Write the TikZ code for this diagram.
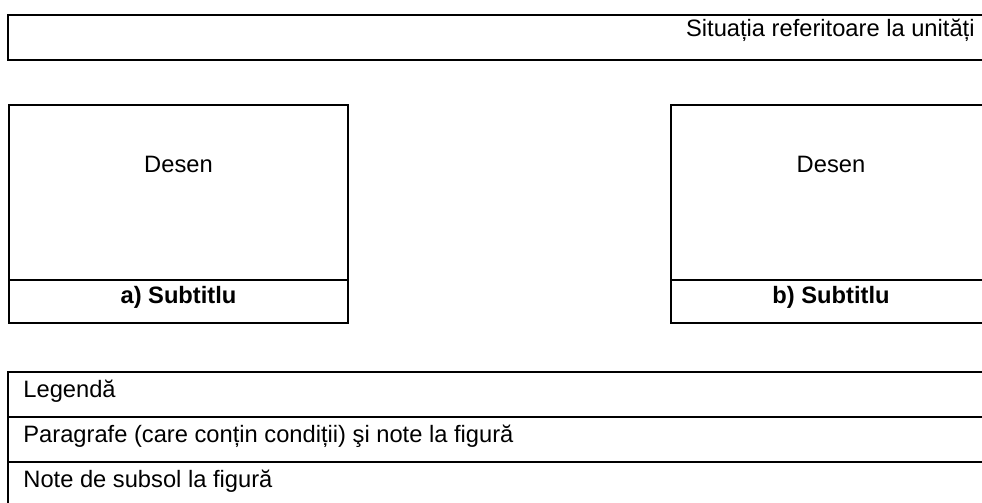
\documentclass[tikz,border=0pt]{standalone}
\usepackage{fontspec}
\setmainfont{Liberation Sans}
\begin{document}
\begin{tikzpicture}[x=0.5pt,y=-0.5pt,
  frame/.style={line width=1pt,draw=black},
  txt/.style={font=\fontsize{11.85}{14}\selectfont, inner sep=0pt}]
\useasboundingbox (0,0) rectangle (982,503);
\clip (0,0) rectangle (982,503);
% top box
\draw[frame] (1000,15) -- (8,15) -- (8,60) -- (1000,60);
\node[txt, anchor=base east] (title) at (975,37) {Situația referitoare la unități};
% box a
\draw[frame] (9,105) rectangle (348,323);
\draw[frame] (9,280) -- (348,280);
\node[txt, anchor=base] (desena) at (178.5,172) {Desen};
\node[txt, anchor=base] (suba) at (178.5,303) {\bfseries a) Subtitlu};
% box b
\draw[frame] (1000,105) -- (671,105) -- (671,323) -- (1000,323);
\draw[frame] (671,280) -- (1000,280);
\node[txt, anchor=base] (desenb) at (831,172) {Desen};
\node[txt, anchor=base] (subb) at (831,303) {\bfseries b) Subtitlu};
% bottom table
\draw[frame] (1000,372) -- (8,372) -- (8,510);
\draw[frame] (8,417) -- (1000,417);
\draw[frame] (8,462) -- (1000,462);
\node[txt, anchor=base west] (leg) at (23,397) {Legendă};
\node[txt, anchor=base west] (par) at (23,442) {Paragrafe (care conțin condiții) şi note la figură};
\node[txt, anchor=base west] (note) at (23,487) {Note de subsol la figură};
\end{tikzpicture}
\end{document}
